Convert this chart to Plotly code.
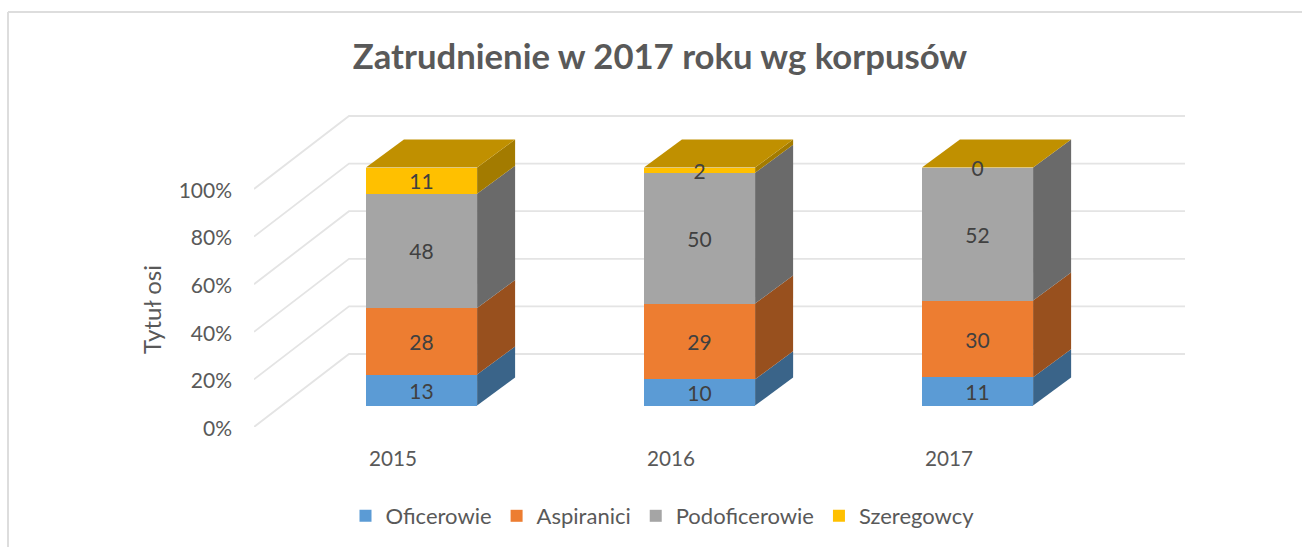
import plotly.graph_objects as go

# ---- data ----
years = [2015, 2016, 2017]
oficerowie = [13, 10, 11]
aspiranici = [28, 29, 30]
podoficerowie = [48, 50, 52]
szeregowcy = [11, 2, 0]
series_names = ["Oficerowie", "Aspiranici", "Podoficerowie", "Szeregowcy"]
y_ticks = [0, 20, 40, 60, 80, 100]
y_tick_labels = ["0%", "20%", "40%", "60%", "80%", "100%"]

# ---- styling ----
W, H = 1302, 547
FRONT = ["#5B9BD5", "#ED7D31", "#A5A5A5", "#FFC000"]
SIDE = ["#3A6489", "#98501E", "#6A6A6A", "#A37B00"]
TOP = "#C09000"
GRID = "#E4E4E4"
TXT = "#595959"
LBL = "#404040"
FONT = "Lato, Carlito, Calibri, sans-serif"

# pixel layout of the plot region (front wall of the 3D box plus its depth)
L, R, T, B = 254, 1185, 96, 427
AXIS_T, AXIS_B = 190.5, 428.5   # pixel span of 100%..0% on the visible axis
PX_YEAR = 278.0     # pixels per category
PX_PCT = 2.38       # pixels per percent
X0_PX = 393.0       # pixel position of the first category on the axis plane
BAR_X0_PX = 421.5   # pixel position of the first bar's front centre
BAR_Y0_PX = 405.5   # pixel position of the bars' base
BAR_W = 0.4
LABEL_SHIFT = -1.4  # data labels sit slightly below the segment centre
BAR_DX, BAR_DY = 38 / PX_YEAR, 28 / PX_PCT        # bar depth in data units
WALL_DX, WALL_DY = 95 / PX_YEAR, 73 / PX_PCT      # floor depth in data units


def xrange_for(x0_px):
    return [2015 + (L - x0_px) / PX_YEAR, 2015 + (R - x0_px) / PX_YEAR]


def yrange_for(y0_px):
    return [(y0_px - B) / PX_PCT, (y0_px - T) / PX_PCT]


fig = go.Figure()

# a trace with no drawn points keeps the visible percent axis in the figure
fig.add_trace(go.Scatter(x=years, y=[None] * len(years), mode="lines",
                         showlegend=False, hoverinfo="skip", xaxis="x", yaxis="y"))

# gridlines: floor/wall lines, on a hidden taller y scale sharing the visible x axis
xr = xrange_for(X0_PX)
wall_left = 2014.5
for v in y_ticks:
    fig.add_trace(go.Scatter(
        x=[wall_left, wall_left + WALL_DX, xr[1]],
        y=[v, v + WALL_DY, v + WALL_DY],
        mode="lines", line=dict(color=GRID, width=1.8),
        showlegend=False, hoverinfo="skip", xaxis="x", yaxis="y3"))

# stacked 100% bars: front faces
series = [oficerowie, aspiranici, podoficerowie, szeregowcy]
for name, vals, col in zip(series_names, series, FRONT):
    fig.add_trace(go.Bar(
        x=years, y=vals, name=name, width=BAR_W,
        marker=dict(color=col, line=dict(width=0)),
        xaxis="x2", yaxis="y2", hoverinfo="skip"))

# side and top faces, plus labels
totals = [sum(s[i] for s in series) for i in range(len(years))]
for i, yr in enumerate(years):
    xr_edge = yr + BAR_W / 2
    xl_edge = yr - BAR_W / 2
    cum = 0.0
    for s, side_col in zip(series, SIDE):
        p = s[i] / totals[i] * 100
        lo, hi = cum, cum + p
        cum = hi
        if p <= 0:
            continue
        fig.add_trace(go.Scatter(
            x=[xr_edge, xr_edge + BAR_DX, xr_edge + BAR_DX, xr_edge, xr_edge],
            y=[lo, lo + BAR_DY, hi + BAR_DY, hi, lo],
            mode="lines", fill="toself", fillcolor=side_col,
            line=dict(width=0, color=side_col),
            showlegend=False, hoverinfo="skip", xaxis="x2", yaxis="y2"))
    fig.add_trace(go.Scatter(
        x=[xl_edge, xl_edge + BAR_DX, xr_edge + BAR_DX, xr_edge, xl_edge],
        y=[100, 100 + BAR_DY, 100 + BAR_DY, 100, 100],
        mode="lines", fill="toself", fillcolor=TOP,
        line=dict(width=0, color=TOP),
        showlegend=False, hoverinfo="skip", xaxis="x2", yaxis="y2"))
    cum = 0.0
    for s in series:
        p = s[i] / totals[i] * 100
        fig.add_trace(go.Scatter(
            x=[yr], y=[cum + p / 2 + LABEL_SHIFT], mode="text", text=[str(s[i])],
            textposition="middle center", cliponaxis=False,
            textfont=dict(family=FONT, size=21, color=LBL),
            showlegend=False, hoverinfo="skip", xaxis="x2", yaxis="y2"))
        cum += p

fig.update_layout(
    width=W, height=H,
    margin=dict(l=0, r=0, t=0, b=0),
    paper_bgcolor="white", plot_bgcolor="rgba(0,0,0,0)",
    barmode="stack", barnorm="percent",
    font=dict(family=FONT, color=TXT),
    title=dict(text="<b>Zatrudnienie w 2017 roku wg korpusów</b>",
               x=660 / W, xanchor="center", y=1 - 57 / H, yanchor="middle",
               font=dict(family=FONT, size=34.7, color=TXT)),
    xaxis=dict(domain=[L / W, R / W], range=xr, tickvals=years,
               ticktext=[str(y) for y in years], showgrid=False, zeroline=False,
               showline=False, ticks="", anchor="y", ticklabelstandoff=16,
               tickfont=dict(family=FONT, size=20.7, color=TXT)),
    yaxis=dict(domain=[1 - AXIS_B / H, 1 - AXIS_T / H], range=[0, 100], tickvals=y_ticks,
               ticktext=y_tick_labels, showgrid=False, zeroline=False, showline=False,
               ticks="", anchor="x", automargin=False, ticklabelstandoff=21,
               tickfont=dict(family=FONT, size=21, color=TXT),
               title=dict(text="Tytuł osi", standoff=10,
                          font=dict(family=FONT, size=24, color=TXT))),
    xaxis2=dict(domain=[L / W, R / W], range=xrange_for(BAR_X0_PX),
                visible=False, anchor="y2"),
    yaxis2=dict(domain=[1 - B / H, 1 - T / H], range=yrange_for(BAR_Y0_PX),
                visible=False, anchor="x2"),
    yaxis3=dict(domain=[1 - B / H, 1 - T / H], range=yrange_for(427),
                visible=False, anchor="x"),
    legend=dict(orientation="h", x=662.5 / W, xanchor="center", y=1 - 516 / H, yanchor="middle",
                traceorder="normal",
                font=dict(family=FONT, size=22, color=TXT), bgcolor="rgba(0,0,0,0)"),
    shapes=[
        dict(type="line", xref="paper", yref="paper", x0=8 / W, x1=8 / W, y0=0, y1=1 - 12 / H,
             line=dict(color="#DDDDDD", width=2)),
        dict(type="line", xref="paper", yref="paper", x0=8 / W, x1=1, y0=1 - 12 / H, y1=1 - 12 / H,
             line=dict(color="#DDDDDD", width=2)),
    ],
)

# the browser's default body margin would push the fixed-size figure off its position
fig.write_html("out.html", config={"displayModeBar": False},
               post_script="document.body.style.margin='0';")
